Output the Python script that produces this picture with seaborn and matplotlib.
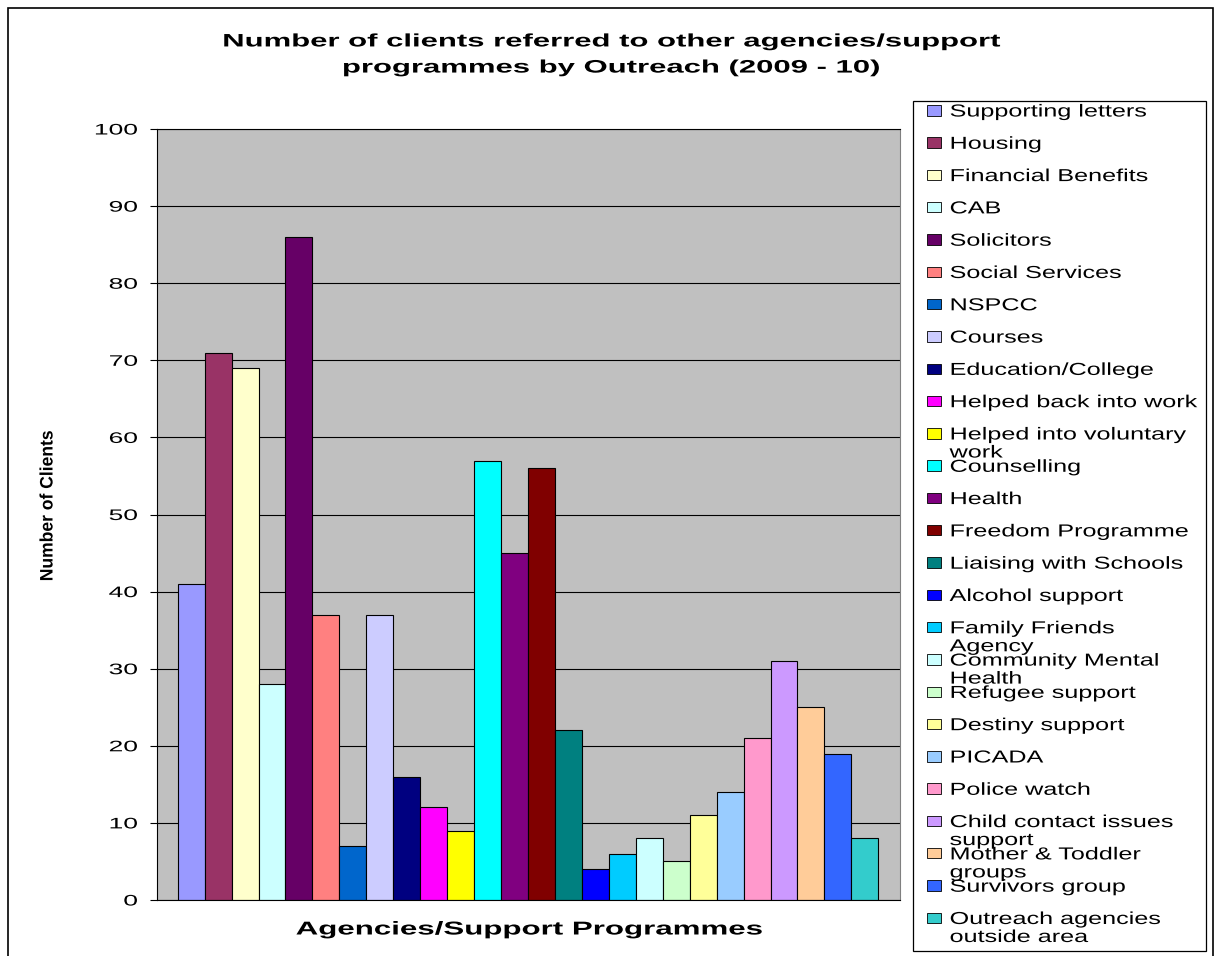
import matplotlib
matplotlib.use("Agg")
import matplotlib.pyplot as plt
import seaborn as sns
import pandas as pd
from matplotlib.patheffects import AbstractPathEffect
from matplotlib.transforms import Affine2D
from matplotlib.patches import Patch, Rectangle

# ---------------- data ----------------
categories = ["Supporting letters", "Housing", "Financial Benefits", "CAB", "Solicitors",
              "Social Services", "NSPCC", "Courses", "Education/College",
              "Helped back into work", "Helped into voluntary work", "Counselling",
              "Health", "Freedom Programme", "Liaising with Schools", "Alcohol support",
              "Family Friends Agency", "Community Mental Health", "Refugee support",
              "Destiny support", "PICADA", "Police watch", "Child contact issues support",
              "Mother & Toddler groups", "Survivors group", "Outreach agencies outside area"]
clients = [41, 71, 69, 28, 86, 37, 7, 37, 16, 12, 9, 57, 45, 56, 22, 4, 6, 8, 5, 11,
           14, 21, 31, 25, 19, 8]
legend_labels = ["Supporting letters", "Housing", "Financial Benefits", "CAB", "Solicitors",
                 "Social Services", "NSPCC", "Courses", "Education/College",
                 "Helped back into work", "Helped into voluntary\nwork", "Counselling",
                 "Health", "Freedom Programme", "Liaising with Schools", "Alcohol support",
                 "Family Friends\nAgency", "Community Mental\nHealth", "Refugee support",
                 "Destiny support", "PICADA", "Police watch", "Child contact issues\nsupport",
                 "Mother & Toddler\ngroups", "Survivors group", "Outreach agencies\noutside area"]
colors = ["#9999FF", "#993366", "#FFFFCC", "#CCFFFF", "#660066", "#FF8080", "#0066CC",
          "#CCCCFF", "#000080", "#FF00FF", "#FFFF00", "#00FFFF", "#800080", "#800000",
          "#008080", "#0000FF", "#00CCFF", "#CCFFFF", "#CCFFCC", "#FFFF99", "#99CCFF",
          "#FF99CC", "#CC99FF", "#FFCC99", "#3366FF", "#33CCCC"]
y_ticks = [0, 10, 20, 30, 40, 50, 60, 70, 80, 90, 100]
title = "Number of clients referred to other agencies/support\nprogrammes by Outreach (2009 - 10)"
x_label = "Agencies/Support Programmes"
y_label = "Number of Clients"


# horizontal stretch of glyphs (the reference renders text very wide)
class Stretch(AbstractPathEffect):
    def __init__(self, sx, anchor="left"):
        super().__init__()
        self.sx = sx
        self.anchor = anchor

    def draw_path(self, renderer, gc, tpath, affine, rgbFace=None):
        ext = tpath.get_extents()
        if self.anchor == "center":
            cx = (ext.x0 + ext.x1) / 2
        elif self.anchor == "right":
            cx = ext.x1
        else:
            cx = 0
        pre = Affine2D().translate(-cx, 0).scale(self.sx, 1).translate(cx, 0)
        renderer.draw_path(gc, tpath, pre + affine, rgbFace)


plt.rcParams["font.family"] = ["Liberation Sans", "DejaVu Sans"]

W, H = 1215, 956
fig = plt.figure(figsize=(W / 100, H / 100), dpi=100)
fig.patch.set_facecolor("white")
ax = fig.add_axes([157 / W, (H - 900) / H, 743 / W, 771 / H])

df = pd.DataFrame({"Programme": categories, "Clients": clients})
sns.barplot(data=df, x="Programme", y="Clients", hue="Programme", palette=colors,
            dodge=False, width=1, saturation=1, edgecolor="black", linewidth=0.8,
            legend=False, ax=ax, zorder=2)

ax.set_xlim(-1.268, 26.305)
ax.set_ylim(0, 100)
ax.set_yticks(y_ticks)
ax.set_xticks([])
ax.set_facecolor("#C0C0C0")
ax.yaxis.grid(True, color="black", linewidth=0.8)
ax.xaxis.grid(False)
ax.set_axisbelow(True)
for s in ["left", "bottom", "top"]:
    ax.spines[s].set_color("black")
    ax.spines[s].set_linewidth(0.8)
ax.spines["right"].set_color("#808080")
ax.spines["right"].set_linewidth(0.8)
ax.tick_params(axis="y", direction="out", length=5, width=0.8, pad=9,
               labelsize=11, colors="black")

ax.set_xlabel(x_label, fontsize=13.4, fontweight="bold", va="center")
ax.xaxis.set_label_coords(0.5007, -0.0389)
ax.set_ylabel(y_label, fontsize=13, fontweight="bold", va="center")
ax.yaxis.set_label_coords(-0.1467, 0.511)

st = fig.suptitle(title, x=611 / W, y=1 - 55 / H, ha="center", va="center",
                  fontsize=13, fontweight="bold", linespacing=1.7)

# ---------------- legend ----------------
fs = 12.5
handles = [Patch(facecolor=c, edgecolor="black", linewidth=0.6) for c in colors]
first_lines = [lab.split("\n")[0] for lab in legend_labels]


def place_legend(ls, top_px):
    return ax.legend(handles, first_lines, loc="upper left",
                     bbox_to_anchor=(927 / W, 1 - top_px / H),
                     bbox_transform=fig.transFigure, frameon=False, borderaxespad=0,
                     borderpad=0, fontsize=fs, labelspacing=ls, handlelength=0.8,
                     handleheight=0.55, handletextpad=0.5)


ls0, top0 = 0.8, 103
leg = place_legend(ls0, top0)
fig.canvas.draw()
r = fig.canvas.get_renderer()
ext = [t.get_window_extent(r) for t in leg.get_texts()]
centers = [H - (e.y0 + e.y1) / 2 for e in ext]
step = (centers[-1] - centers[0]) / 25
ls1 = ls0 + (32.3 - step) / (fs * 100 / 72)
leg = place_legend(ls1, top0 + (112 - centers[0]))
leg.set_zorder(5)

for t, lab in zip(leg.get_texts(), legend_labels):
    t.set_path_effects([Stretch(1.45, "left")])
    if "\n" in lab:
        ax.annotate(lab.split("\n")[1], xy=(0, 0), xycoords=t, xytext=(0, -18),
                    textcoords="offset pixels", va="bottom", ha="left", fontsize=fs,
                    annotation_clip=False, zorder=6,
                    path_effects=[Stretch(1.45, "left")])

# legend frame and outer chart border
fig.add_artist(Rectangle((913 / W, 1 - 951 / H), (1206 - 913) / W, (951 - 101) / H,
                         transform=fig.transFigure, fill=False, edgecolor="black",
                         linewidth=0.9))
fig.add_artist(Rectangle((7.5 / W, -10 / H), (1213 - 7.5) / W, (H - 7.5 + 10) / H,
                         transform=fig.transFigure, fill=False, edgecolor="black",
                         linewidth=1.2))

fig.canvas.draw()
for lbl in ax.get_yticklabels():
    lbl.set_path_effects([Stretch(1.73, "right")])
ax.xaxis.label.set_path_effects([Stretch(1.68, "center")])
ax.yaxis.label.set_path_effects([Stretch(0.97, "center")])
st.set_path_effects([Stretch(1.72, "center")])

fig.savefig("out.png", dpi=100, facecolor="white")
